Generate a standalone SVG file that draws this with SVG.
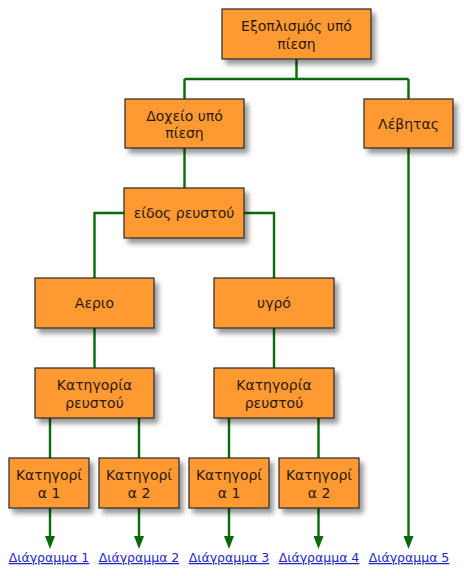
<svg xmlns="http://www.w3.org/2000/svg" width="464" height="576" viewBox="0 0 464 576">
<defs>
<filter id="sh" x="-20%" y="-20%" width="150%" height="160%">
<feGaussianBlur in="SourceAlpha" stdDeviation="2.5"/>
<feOffset dx="4" dy="5" result="b"/>
<feComponentTransfer><feFuncA type="linear" slope="0.4"/></feComponentTransfer>
<feMerge><feMergeNode/><feMergeNode in="SourceGraphic"/></feMerge>
</filter>
<marker id="arr" viewBox="0 -5 13 10" refX="0" refY="0" markerWidth="13" markerHeight="10" markerUnits="userSpaceOnUse" orient="auto">
<path d="M0,-5 L13,0 L0,5 z" fill="#0a6a0a"/>
</marker>
</defs>
<style>
.box{fill:#ff9933;stroke:#2a2a2a;stroke-width:1.2;filter:url(#sh)}
.t{font-family:"DejaVu Sans","Noto Sans",sans-serif;font-size:14px;fill:#2a1a0a;text-anchor:middle}
.ln{fill:none;stroke:#0a6a0a;stroke-width:2.4}
.lk{font-family:"DejaVu Sans","Noto Sans",sans-serif;font-size:12.5px;fill:#2222cc;text-anchor:middle;text-decoration:underline}
</style>
<rect width="464" height="576" fill="#ffffff"/>
<g id="connectors">
<path class="ln" d="M296.5,59 V79 M184.5,79 H408.5 M184.5,79 V99 M408.5,79 V99"/>
<path class="ln" d="M184.5,148 V188"/>
<path class="ln" d="M124,213 H94.5 V278 M244,213 H274 V278"/>
<path class="ln" d="M94.5,328 V368 M274,328 V368"/>
<path class="ln" d="M50,418 V458 M139,418 V458 M229,418 V458 M318.5,418 V458"/>
<path class="ln" d="M50,508 V536" marker-end="url(#arr)"/>
<path class="ln" d="M139,508 V536" marker-end="url(#arr)"/>
<path class="ln" d="M229,508 V536" marker-end="url(#arr)"/>
<path class="ln" d="M318.5,508 V536" marker-end="url(#arr)"/>
<path class="ln" d="M408.5,148 V536" marker-end="url(#arr)"/>
</g>
<g id="n1"><rect class="box" x="222" y="9" width="149" height="50"/><text class="t" x="296.5" y="31">Εξοπλισμός υπό</text><text class="t" x="296.5" y="48.5">πίεση</text></g>
<g id="n2"><rect class="box" x="125" y="99" width="119" height="49"/><text class="t" x="184.5" y="120.5">Δοχείο υπό</text><text class="t" x="184.5" y="138">πίεση</text></g>
<g id="n3"><rect class="box" x="364" y="99" width="89" height="49"/><text class="t" x="408.5" y="129">Λέβητας</text></g>
<g id="n4"><rect class="box" x="124" y="188" width="120" height="50"/><text class="t" x="184" y="218">είδος ρευστού</text></g>
<g id="n5"><rect class="box" x="35" y="278" width="119" height="50"/><text class="t" x="94.5" y="308">Αεριο</text></g>
<g id="n6"><rect class="box" x="214" y="278" width="120" height="50"/><text class="t" x="274" y="308">υγρό</text></g>
<g id="n7"><rect class="box" x="35" y="368" width="119" height="50"/><text class="t" x="94.5" y="390">Κατηγορία</text><text class="t" x="94.5" y="407.5">ρευστού</text></g>
<g id="n8"><rect class="box" x="214" y="368" width="120" height="50"/><text class="t" x="274" y="390">Κατηγορία</text><text class="t" x="274" y="407.5">ρευστού</text></g>
<g id="n9"><rect class="box" x="9" y="458" width="80" height="50"/><text class="t" x="49" y="479.5">Κατηγορί</text><text class="t" x="49" y="497.5">α 1</text></g>
<g id="n10"><rect class="box" x="99" y="458" width="80" height="50"/><text class="t" x="139" y="479.5">Κατηγορί</text><text class="t" x="139" y="497.5">α 2</text></g>
<g id="n11"><rect class="box" x="189" y="458" width="80" height="50"/><text class="t" x="229" y="479.5">Κατηγορί</text><text class="t" x="229" y="497.5">α 1</text></g>
<g id="n12"><rect class="box" x="279" y="458" width="80" height="50"/><text class="t" x="319" y="479.5">Κατηγορί</text><text class="t" x="319" y="497.5">α 2</text></g>
<g id="links">
<text class="lk" x="49" y="562">Διάγραμμα 1</text>
<text class="lk" x="139" y="562">Διάγραμμα 2</text>
<text class="lk" x="229" y="562">Διάγραμμα 3</text>
<text class="lk" x="319" y="562">Διάγραμμα 4</text>
<text class="lk" x="409" y="562">Διάγραμμα 5</text>
</g>
</svg>
